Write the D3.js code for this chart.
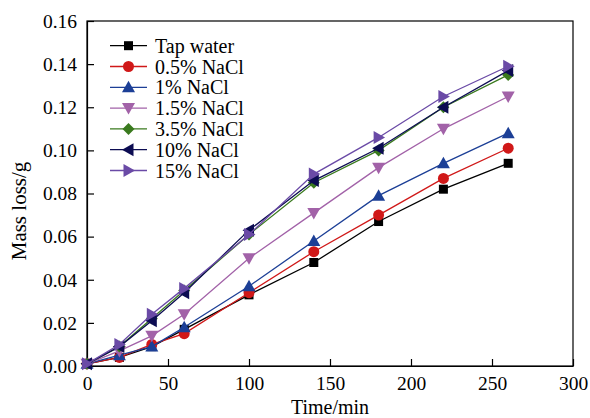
<!DOCTYPE html>
<meta charset="utf-8">
<script src="https://d3js.org/d3.v7.min.js"></script>
<style>
  body { margin: 0; background: #fff; }
</style>
<div id="chart"></div>
<script>
// time points (min)
var times = [0, 20, 40, 60, 100, 140, 180, 220, 260];

var seriesNames = ["Tap water", "0.5% NaCl", "1% NaCl", "1.5% NaCl", "3.5% NaCl", "10% NaCl", "15% NaCl"];
var tapWater = [0.001, 0.004, 0.009, 0.017, 0.033, 0.048, 0.067, 0.082, 0.094];
var nacl05   = [0.001, 0.004, 0.010, 0.015, 0.034, 0.053, 0.070, 0.087, 0.101];
var nacl1    = [0.001, 0.005, 0.009, 0.018, 0.037, 0.058, 0.079, 0.094, 0.108];
var nacl15   = [0.001, 0.007, 0.014, 0.024, 0.050, 0.071, 0.092, 0.110, 0.125];
var nacl35   = [0.001, 0.009, 0.022, 0.035, 0.061, 0.085, 0.100, 0.120, 0.135];
var nacl10   = [0.001, 0.009, 0.021, 0.034, 0.063, 0.086, 0.101, 0.120, 0.137];
var nacl15p  = [0.001, 0.010, 0.024, 0.036, 0.061, 0.089, 0.106, 0.125, 0.139];

var xTicks = [0, 50, 100, 150, 200, 250, 300];
var yTicks = [0, 0.02, 0.04, 0.06, 0.08, 0.10, 0.12, 0.14, 0.16];

var colors = ["#000000", "#d01818", "#1c3f96", "#a262a8", "#3a7a1e", "#0c0c52", "#6a4aa6"];
var symbols = ["square", "circle", "up", "down", "diamond", "left", "right"];
var allValues = [tapWater, nacl05, nacl1, nacl15, nacl35, nacl10, nacl15p];

var serif = "'Liberation Serif', 'Times New Roman', serif";

var margin = {top: 21, right: 17, bottom: 52, left: 87},
    width = 590 - margin.left - margin.right,
    height = 418 - margin.top - margin.bottom;

var svg = d3.select("#chart")
  .append("svg")
    .attr("width", 590)
    .attr("height", 418)
  .append("g")
    .attr("transform", "translate(" + margin.left + "," + margin.top + ")");

var x = d3.scaleLinear().domain([0, 300]).range([0, width]);
var y = d3.scaleLinear().domain([0, 0.16]).range([height, 0]);

// frame
svg.append("rect")
  .attr("width", width).attr("height", height)
  .attr("fill", "none").attr("stroke", "#000").attr("stroke-width", 1.2);

// axes with inward ticks
var xAxis = svg.append("g")
  .attr("transform", "translate(0," + height + ")")
  .call(d3.axisBottom(x).tickValues(xTicks).tickSizeInner(-7).tickSizeOuter(0).tickPadding(10));
var yAxis = svg.append("g")
  .call(d3.axisLeft(y).tickValues(yTicks).tickFormat(d3.format(".2f")).tickSizeInner(-7).tickSizeOuter(0).tickPadding(10));

[xAxis, yAxis].forEach(function(a) {
  a.attr("font-family", serif);
  a.select(".domain").attr("stroke-width", 1.2);
  a.selectAll("line").attr("stroke-width", 1.2);
  a.selectAll("text").style("font-family", serif).style("font-size", "19.5px").attr("fill", "#000");
});

svg.append("text")
  .attr("x", width / 2).attr("y", height + 47.5)
  .attr("text-anchor", "middle")
  .style("font-family", serif)
  .style("font-size", "20px")
  .text("Time/min");

svg.append("text")
  .attr("transform", "rotate(-90)")
  .attr("x", -190).attr("y", -61)
  .attr("text-anchor", "middle")
  .style("font-family", serif)
  .style("font-size", "21px")
  .text("Mass loss/g");

function drawMarker(g, type, color) {
  if (type === "square") {
    g.append("rect").attr("x", -4.5).attr("y", -4.5).attr("width", 9).attr("height", 9).attr("fill", color);
  } else if (type === "circle") {
    g.append("circle").attr("r", 5.5).attr("fill", color);
  } else {
    var pts;
    if (type === "up") pts = [[0, -6.5], [6.5, 5], [-6.5, 5]];
    else if (type === "down") pts = [[0, 6.5], [6.5, -5], [-6.5, -5]];
    else if (type === "left") pts = [[-6.5, 0], [5, -6.5], [5, 6.5]];
    else if (type === "right") pts = [[6.5, 0], [-5, -6.5], [-5, 6.5]];
    else pts = [[0, -6], [6, 0], [0, 6], [-6, 0]];
    g.append("polygon").attr("points", pts.map(function(p) { return p.join(","); }).join(" ")).attr("fill", color);
  }
}

var line = d3.line()
  .x(function(d) { return x(d[0]); })
  .y(function(d) { return y(d[1]); });

allValues.forEach(function(vals, i) {
  var data = times.map(function(t, j) { return [t, vals[j]]; });
  var g = svg.append("g");
  g.append("path")
    .datum(data)
    .attr("d", line)
    .attr("fill", "none")
    .attr("stroke", colors[i])
    .attr("stroke-width", 1.3);
  data.forEach(function(d) {
    var m = g.append("g").attr("transform", "translate(" + x(d[0]) + "," + y(d[1]) + ")");
    drawMarker(m, symbols[i], colors[i]);
  });
});

// legend
var legend = svg.append("g").attr("transform", "translate(23,24.7)");
seriesNames.forEach(function(name, i) {
  var row = legend.append("g").attr("transform", "translate(0," + (i * 20.8) + ")");
  row.append("line").attr("x1", 0).attr("x2", 37).attr("stroke", colors[i]).attr("stroke-width", 1.3);
  var m = row.append("g").attr("transform", "translate(18.5,0)");
  drawMarker(m, symbols[i], colors[i]);
  row.append("text").attr("x", 45).attr("y", 7)
    .style("font-family", serif)
    .style("font-size", "20px")
    .text(name);
});
</script>
